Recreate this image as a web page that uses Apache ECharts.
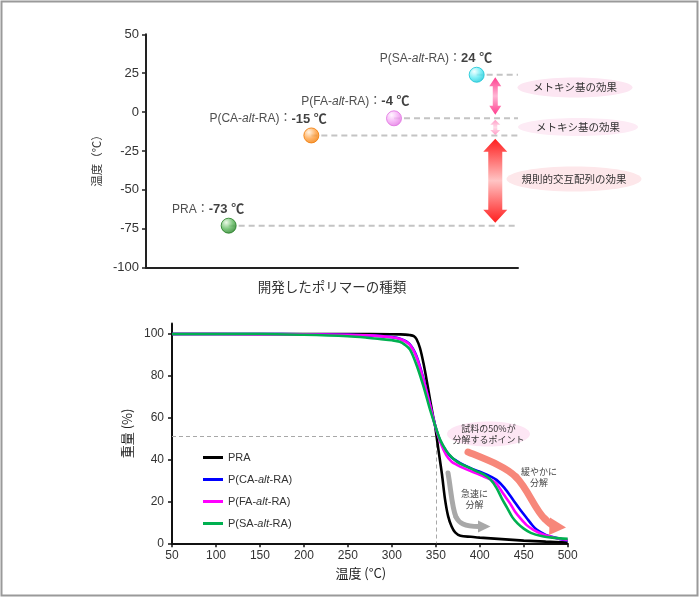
<!DOCTYPE html>
<html><head><meta charset="utf-8">
<script src="https://cdn.jsdelivr.net/npm/echarts@6/dist/echarts.min.js"></script>
<style>html,body{margin:0;padding:0;background:#fff}#c{width:700px;height:597px}</style>
</head><body><div id="c"></div>
<script>
// ---------- data ----------
const polymers = ['PRA', 'P(CA-alt-RA)', 'P(FA-alt-RA)', 'P(SA-alt-RA)'];
const tgValues = [-73, -15, -4, 24];
const tgTicks = [-100, -75, -50, -25, 0, 25, 50];
const weightTicks = [0, 20, 40, 60, 80, 100];
const tempTicks = [50, 100, 150, 200, 250, 300, 350, 400, 450, 500];

const praTemp   = [50,100,150,200,250,300,310,315,320,325,328,332,336,340,343.5,347,349,353,357,360.5,364,368,372,378,390,400,425,450,475,500];
const praWeight = [100,100,100,100,100,99.9,99.8,99.7,99.5,99.0,97.6,93.3,86,77,68.5,60.5,56.6,44.6,33,21,13,8,5.2,3.6,3.1,2.7,2,1.3,0.8,0.4];

const caTemp   = [50,100,150,200,250,280,300,310,320,328,336,343.5,349,355,362,368,374,381,389,396,404,412,419,428,438,446,453.5,460,465,475,484,492,500];
const caWeight = [100,100,100,99.9,99.6,99.2,98.5,97.6,95.3,89.5,78.5,66,56.6,49,44,41,39.3,37.6,36,34.8,33.5,32,30.3,26.5,20.7,16,12,8.5,6.4,4,2.9,2,1.3];

const faTemp   = [50,100,150,200,250,280,300,310,320,328,336,343.5,349,355,362,368,374,381,389,396,404,412,419,427,434.5,440,446,453,461,470,480,490,500];
const faWeight = [100,100,99.8,99.8,99.6,99.2,98.4,97.5,95,89,78,66,56.6,48.5,42,39,37.5,36,34.6,33.5,32,30.5,28.5,23.5,19,15.2,12,8.8,6.4,4.6,3.2,2.2,1.6];

const saTemp   = [50,100,150,200,250,270,286,300,309,315,320.7,328,336,343.5,349,355,362.5,368,374,381,389,396,404,412,419,425,431,437,443,450,458,470,485,500];
const saWeight = [100,100,100,99.6,98.9,98.3,97.6,97,96.3,94.8,92.5,85.3,75,63.8,56.6,49.4,43.8,41.2,39,37.4,35.9,34.5,33,30.5,26.5,21.5,17,12.5,9.5,7,5,3.5,2.6,2.1];

const halfTemp = 350, halfWeight = 51;   // 50% decomposition point guide

// ---------- styles ----------
const FONT = '"Liberation Sans", Arial, "Noto Sans CJK JP", sans-serif';
const JP = '"Noto Sans CJK JP", "Liberation Sans", sans-serif';
const lineColors = ['#000000', '#0000ff', '#ff00ff', '#00b050'];
const ballColors = [
  ['#e6f7e0', '#5cb85c', '#1f7a1f'],
  ['#fff0dc', '#ffa040', '#f07800'],
  ['#fff4ff', '#f4a6f4', '#e070e0'],
  ['#f0ffff', '#5ceaf4', '#14c4d4']
];
const X_MAX = 4.5;

function richName(name) {
  const m = name.match(/^(.*?)alt(.*)$/);
  if (!m) return '{n|' + name + '}';
  return '{n|' + m[1] + '}{i|alt}{n|' + m[2] + '}';
}
const tgaSets = [[praTemp, praWeight], [caTemp, caWeight], [faTemp, faWeight], [saTemp, saWeight]];

const chart = echarts.init(document.getElementById('c'));

const option = {
  animation: false,
  textStyle: { fontFamily: FONT },
  grid: [
    { left: 146, top: 34.3, width: 372, height: 233.4 },
    { left: 172, top: 323.5, width: 395.7, height: 219.8 }
  ],
  xAxis: [
    { gridIndex: 0, type: 'value', min: 0, max: X_MAX,
      axisLine: { onZero: false, lineStyle: { color: '#222', width: 2 } },
      axisTick: { show: false }, axisLabel: { show: false }, splitLine: { show: false },
      name: '開発したポリマーの種類', nameLocation: 'middle', nameGap: 12,
      nameTextStyle: { fontFamily: JP, fontSize: 13.5, color: '#333' } },
    { gridIndex: 1, type: 'value', min: 50, max: 500, interval: 50,
      axisLine: { onZero: false, lineStyle: { color: '#111', width: 2 } },
      axisTick: { inside: false, length: 4, lineStyle: { color: '#111', width: 1.5 } },
      axisLabel: { fontSize: 12, color: '#333', margin: 6, fontFamily: FONT,
        customValues: tempTicks },
      splitLine: { show: false },
      name: '温度 (°C)', nameLocation: 'middle', nameGap: 23,
      nameTextStyle: { fontFamily: JP, fontSize: 13, color: '#222', padding: [0, 18, 0, 0] } }
  ],
  yAxis: [
    { gridIndex: 0, type: 'value', min: -100, max: 50, interval: 25,
      axisLine: { show: true, onZero: false, lineStyle: { color: '#222', width: 2 } },
      axisTick: { show: true, inside: false, length: 4, lineStyle: { color: '#222', width: 1.5 } },
      axisLabel: { fontSize: 13, color: '#333', margin: 7, fontFamily: FONT, customValues: tgTicks },
      splitLine: { show: false },
      name: '温度（℃）', nameLocation: 'middle', nameGap: 44, nameRotate: 90,
      nameTextStyle: { fontFamily: JP, fontSize: 11.5, color: '#333', padding: [0, 14, 0, 0] } },
    { gridIndex: 1, type: 'value', min: 0, max: 105, interval: 20,
      axisLine: { show: true, onZero: false, lineStyle: { color: '#111', width: 2 } },
      axisTick: { show: true, inside: false, length: 4, lineStyle: { color: '#111', width: 1.5 },
        customValues: weightTicks },
      axisLabel: { fontSize: 12, color: '#333', margin: 8, fontFamily: FONT, customValues: weightTicks,
        formatter: v => (weightTicks.indexOf(v) >= 0 ? String(v) : '') },
      splitLine: { show: false },
      name: '重量 (%)', nameLocation: 'middle', nameGap: 30, nameRotate: 90,
      nameTextStyle: { fontFamily: JP, fontSize: 13, color: '#222' } }
  ],
  legend: {
    data: polymers, orient: 'vertical', left: 198, top: 446,
    itemWidth: 20, itemHeight: 3, itemGap: 9, icon: 'rect',
    formatter: n => richName(n),
    textStyle: { fontSize: 11, color: '#333', lineHeight: 13,
      rich: { n: { fontSize: 11, color: '#333', fontFamily: FONT },
              i: { fontSize: 11, color: '#333', fontStyle: 'italic', fontFamily: FONT } } }
  },
  series: [
    { type: 'custom', name: 'guides', xAxisIndex: 0, yAxisIndex: 0, z: 1, silent: true,
      data: tgValues.map((v, i) => [i + 1, v]),
      renderItem: (params, api) => {
        const p0 = api.coord([api.value(0), api.value(1)]);
        const p1 = api.coord([X_MAX, api.value(1)]);
        return { type: 'line', shape: { x1: p0[0], y1: p0[1], x2: p1[0], y2: p1[1] },
          style: { stroke: '#c4c4c4', lineWidth: 2, lineDash: [6, 4] } };
      } },
    { type: 'scatter', name: 'Tg', xAxisIndex: 0, yAxisIndex: 0, z: 5, symbolSize: 15,
      data: tgValues.map((v, i) => ({
        name: polymers[i], value: [i + 1, v],
        itemStyle: {
          color: new echarts.graphic.RadialGradient(0.35, 0.3, 0.75, [
            { offset: 0, color: ballColors[i][0] },
            { offset: 0.55, color: ballColors[i][1] },
            { offset: 1, color: ballColors[i][2] }]),
          borderColor: ballColors[i][2], borderWidth: 1 }
      })),
      label: { show: true, position: [23.5, -8.5], align: 'right', verticalAlign: 'middle',
        formatter: p => richName(p.name) + '{n|：}{b|' + p.value[1] + ' ℃}',
        rich: { n: { fontSize: 12, color: '#222', fontFamily: FONT },
                i: { fontSize: 12, color: '#222', fontStyle: 'italic', fontFamily: FONT },
                b: { fontSize: 13, color: '#111', fontWeight: 'bold', fontFamily: FONT } } },
      emphasis: { disabled: true } }
  ].concat(tgaSets.map((s, k) => ({
    type: 'line', name: polymers[k], xAxisIndex: 1, yAxisIndex: 1, z: 3 + k,
    showSymbol: false, symbol: 'none', smooth: 0.3,
    data: s[0].map((t, j) => [t, s[1][j]]),
    itemStyle: { color: lineColors[k] },
    lineStyle: { color: lineColors[k], width: 2.6 },
    emphasis: { disabled: true },
    markLine: k === 0 ? {
      silent: true, symbol: ['none', 'none'], label: { show: false }, z: 1,
      lineStyle: { color: '#a8a8a8', type: [4, 3], width: 1 },
      data: [[{ coord: [tempTicks[0], halfWeight] }, { coord: [halfTemp, halfWeight] }],
             [{ coord: [halfTemp, halfWeight] }, { coord: [halfTemp, 0] }]]
    } : undefined
  })))
};
chart.setOption(option);

// ---------- annotations ----------
function vArrow(cx, yTop, yBot, sw, hw, hh, stops) {
  return { type: 'polygon', z: 20, silent: true,
    shape: { points: [[cx, yTop], [cx + hw / 2, yTop + hh], [cx + sw / 2, yTop + hh], [cx + sw / 2, yBot - hh],
      [cx + hw / 2, yBot - hh], [cx, yBot], [cx - hw / 2, yBot - hh], [cx - sw / 2, yBot - hh],
      [cx - sw / 2, yTop + hh], [cx - hw / 2, yTop + hh]] },
    style: { fill: new echarts.graphic.LinearGradient(0, 0, 0, 1, stops) } };
}
const ARROW_X = 4.225;
const py = v => chart.convertToPixel({ gridIndex: 0 }, [ARROW_X, v]);
const ax = py(0)[0];
const g = [];
g.push({ type: 'rect', z: 30, silent: true, shape: { x: 1.5, y: 1.5, width: 696, height: 594 },
  style: { fill: 'none', stroke: '#9a9a9a', lineWidth: 2 } });
g.push(vArrow(ax, py(tgValues[3])[1] + 2.5, py(tgValues[2])[1] - 3.5, 5, 12, 9,
  [{ offset: 0, color: '#ff3d8e' }, { offset: 0.5, color: '#ffb6d4' }, { offset: 1, color: '#ff3d8e' }]));
g.push(vArrow(ax, py(tgValues[2])[1] + 1.5, py(tgValues[1])[1] - 0.5, 4, 10, 5,
  [{ offset: 0, color: '#ff9cc6' }, { offset: 0.5, color: '#ffdce9' }, { offset: 1, color: '#ff9cc6' }]));
g.push(vArrow(ax, py(tgValues[1])[1] + 3.2, py(tgValues[0])[1] - 3, 14, 24, 13,
  [{ offset: 0, color: '#ff1e1e' }, { offset: 0.5, color: '#ffc4c4' }, { offset: 1, color: '#ff1e1e' }]));

function ellipseLabel(cx, cy, rx, ry, fill, lines, fs) {
  g.push({ type: 'ellipse', z: 15, silent: true, shape: { cx, cy, rx, ry }, style: { fill } });
  const lh = fs + 1.5;
  lines.forEach((t, i) => g.push({ type: 'text', z: 16, silent: true, x: cx, y: cy + (i - (lines.length - 1) / 2) * lh,
    style: { text: t, fill: '#333', font: fs + 'px ' + JP, align: 'center', verticalAlign: 'middle' } }));
}
ellipseLabel(575, 87.5, 57.5, 10, '#fce6f2', ['メトキシ基の効果'], 10.5);
ellipseLabel(578, 127, 60, 9, '#fdebf5', ['メトキシ基の効果'], 10.5);
ellipseLabel(574, 179, 67.5, 12.5, '#fde7ea', ['規則的交互配列の効果'], 10.5);
ellipseLabel(488.5, 434, 41.5, 12.5, '#fde6f4', ['試料の50%が', '分解するポイント'], 9);

function bez(p, color, w) {
  return { type: 'bezierCurve', z: 15, silent: true,
    shape: { x1: p[0], y1: p[1], cpx1: p[2], cpy1: p[3], cpx2: p[4], cpy2: p[5], x2: p[6], y2: p[7] },
    style: { fill: 'none', stroke: color, lineWidth: w, lineCap: 'round' } };
}
// gray "rapid" arrow
g.push(bez([448, 473, 451, 490, 452, 508, 456, 517], '#a8a8a8', 5));
g.push(bez([456, 517, 459, 523, 464, 526.5, 479, 526.5], '#a8a8a8', 5));
g.push({ type: 'polygon', z: 15, silent: true, shape: { points: [[478, 520.5], [490.5, 526.5], [478, 532.5]] },
  style: { fill: '#a8a8a8' } });
// salmon "gradual" arrow
g.push(bez([468, 452, 490, 461, 506, 467, 516, 477], '#f7877a', 7));
g.push(bez([516, 477, 528, 489, 535, 510, 545, 519], '#f7877a', 7));
g.push(bez([545, 519, 548, 522, 550, 524, 553, 525.5], '#f7877a', 7));
g.push({ type: 'polygon', z: 15, silent: true, shape: { points: [[550, 517.5], [566, 527.5], [549, 535]] },
  style: { fill: '#f7877a' } });

[['急速に', 474.5, 494], ['分解', 474.5, 505], ['緩やかに', 539, 472], ['分解', 539, 483]].forEach(a =>
  g.push({ type: 'text', z: 16, silent: true, x: a[1], y: a[2],
    style: { text: a[0], fill: '#444', font: '9px ' + JP, align: 'center', verticalAlign: 'middle' } }));

chart.setOption({ graphic: g });
</script></body></html>
